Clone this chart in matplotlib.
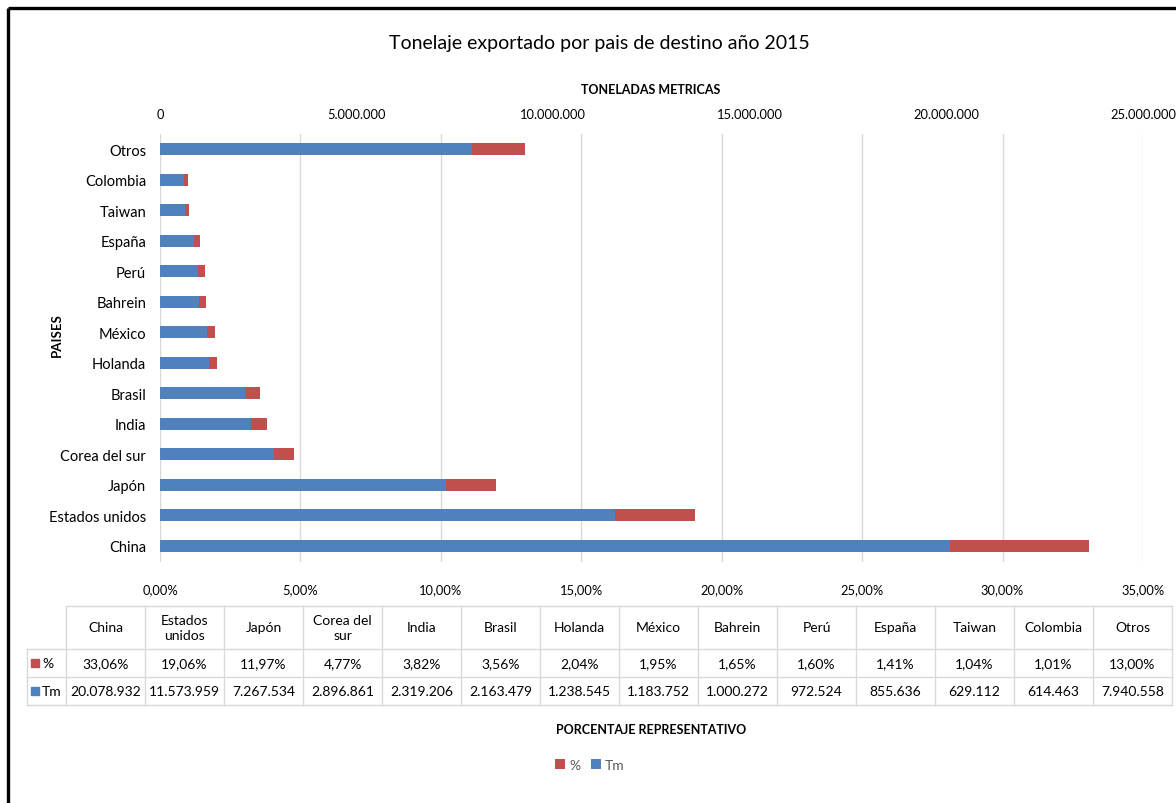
import matplotlib
matplotlib.use("Agg")
import matplotlib.pyplot as plt
from matplotlib.ticker import FuncFormatter, FixedLocator

plt.rcParams['font.family'] = ['Lato', 'DejaVu Sans']

# ---------------- data ----------------
countries = ["China", "Estados unidos", "Japón", "Corea del sur", "India", "Brasil",
             "Holanda", "México", "Bahrein", "Perú", "España", "Taiwan", "Colombia", "Otros"]
header_labels = ["China", "Estados\nunidos", "Japón", "Corea del\nsur", "India", "Brasil",
                 "Holanda", "México", "Bahrein", "Perú", "España", "Taiwan", "Colombia", "Otros"]
pct = [33.06, 19.06, 11.97, 4.77, 3.82, 3.56, 2.04, 1.95, 1.65, 1.60, 1.41, 1.04, 1.01, 13.00]
tm = [20078932, 11573959, 7267534, 2896861, 2319206, 2163479, 1238545, 1183752,
      1000272, 972524, 855636, 629112, 614463, 7940558]
pct_ticks = [0, 5, 10, 15, 20, 25, 30, 35]
tm_ticks = [0, 5000000, 10000000, 15000000, 20000000, 25000000]

title = "Tonelaje exportado por pais de destino año 2015"
top_axis_title = "TONELADAS METRICAS"
bottom_axis_title = "PORCENTAJE REPRESENTATIVO"
y_title = "PAISES"

RED = "#c0504d"
BLUE = "#4f81bd"
GRID = "#d9d9d9"

W, H = 1176, 804
fig = plt.figure(figsize=(W / 100, H / 100), dpi=100)

def fx(x):
    return x / W

def fy(y):
    return 1 - y / H

# ---------------- main axes ----------------
L, R, T, B = 160, 1143, 135, 563
ax = fig.add_axes([fx(L), fy(B), fx(R - L), (B - T) / H])
ypos = list(range(len(countries)))
bh = 0.4
bars_pct = ax.barh(ypos, pct, height=bh, color=RED, label="%", zorder=2)
ax.set_xlim(0, 35)
ax.set_ylim(-0.53, len(countries) - 0.5)
ax.xaxis.set_major_locator(FixedLocator(pct_ticks))
ax.xaxis.set_major_formatter(FuncFormatter(lambda v, p: f"{v:.2f}".replace(".", ",") + "%"))
ax.set_yticks(ypos)
ax.set_yticklabels(countries, fontsize=10.5)
ax.tick_params(axis='y', length=0, pad=10)
ax.tick_params(axis='x', length=0, pad=15, labelsize=9.3)
ax.grid(axis='x', color=GRID, linewidth=1, zorder=0)
for s in ax.spines.values():
    s.set_visible(False)

ax2 = ax.twiny()
bars_tm = ax2.barh(ypos, tm, height=bh, color=BLUE, label="Tm", zorder=3)
ax2.set_xlim(0, 25000000)
ax2.xaxis.set_major_locator(FixedLocator(tm_ticks))
ax2.xaxis.set_major_formatter(FuncFormatter(lambda v, p: f"{int(v):,}".replace(",", ".")))
ax2.tick_params(axis='x', length=0, pad=10, labelsize=9.3)
for s in ax2.spines.values():
    s.set_visible(False)

# ---------------- titles ----------------
fig.text(fx(599), fy(43), title, ha='center', va='center', fontsize=14)
fig.text(fx(651), fy(90), top_axis_title, ha='center', va='center', fontsize=9, fontweight='bold')
fig.text(fx(57), fy(335), y_title, ha='center', va='center', fontsize=9.5, fontweight='bold', rotation=90)
fig.text(fx(651), fy(730), bottom_axis_title, ha='center', va='center', fontsize=9, fontweight='bold')

# ---------------- data table ----------------
ov = fig.add_axes([0, 0, 1, 1], zorder=5)
ov.set_xlim(0, W)
ov.set_ylim(H, 0)
ov.axis('off')
ov.patch.set_alpha(0)

tx0, tx1 = 66, 1172
lab_x0 = 27
ncol = len(countries)
cw = (tx1 - tx0) / ncol
y_head, y_r1, y_r2, y_bot = 607, 650, 678, 706
lc = dict(color=GRID, linewidth=1)
ov.plot([tx0, tx1], [y_head, y_head], **lc)
ov.plot([lab_x0, tx1], [y_r1, y_r1], **lc)
ov.plot([lab_x0, tx1], [y_r2, y_r2], **lc)
ov.plot([lab_x0, tx1], [y_bot, y_bot], **lc)
ov.plot([lab_x0, lab_x0], [y_r1, y_bot], **lc)
for i in range(ncol + 1):
    x = tx0 + i * cw
    ov.plot([x, x], [y_head, y_bot], **lc)

pct_str = [f"{v:.2f}".replace(".", ",") + "%" for v in pct]
tm_str = [f"{v:,}".replace(",", ".") for v in tm]
for i in range(ncol):
    cx = tx0 + (i + 0.5) * cw
    ov.text(cx, (y_head + y_r1) / 2, header_labels[i], ha='center', va='center',
            fontsize=10, linespacing=1.25)
    ov.text(cx, (y_r1 + y_r2) / 2, pct_str[i], ha='center', va='center', fontsize=10)
    ov.text(cx, (y_r2 + y_bot) / 2, tm_str[i], ha='center', va='center', fontsize=10)

for (yc, col, lab) in [((y_r1 + y_r2) / 2, RED, "%"), ((y_r2 + y_bot) / 2, BLUE, "Tm")]:
    ov.add_patch(plt.Rectangle((31, yc - 4), 8, 8, color=col))
    ov.text(42, yc, lab, ha='left', va='center', fontsize=10)

# ---------------- legend ----------------
fig.legend(handles=[bars_pct, bars_tm], labels=["%", "Tm"], loc='center',
           bbox_to_anchor=(fx(590), fy(766)), ncol=2, frameon=False,
           handlelength=0.7, handleheight=0.7, handletextpad=0.3, columnspacing=0.8,
           fontsize=10, labelcolor="#595959")

# ---------------- frame ----------------
ov.plot([8, W], [9, 9], color='black', linewidth=2.4, solid_capstyle='butt')
ov.plot([8, 8], [9, H], color='black', linewidth=2.4, solid_capstyle='butt')

fig.savefig("out.png", dpi=100)
